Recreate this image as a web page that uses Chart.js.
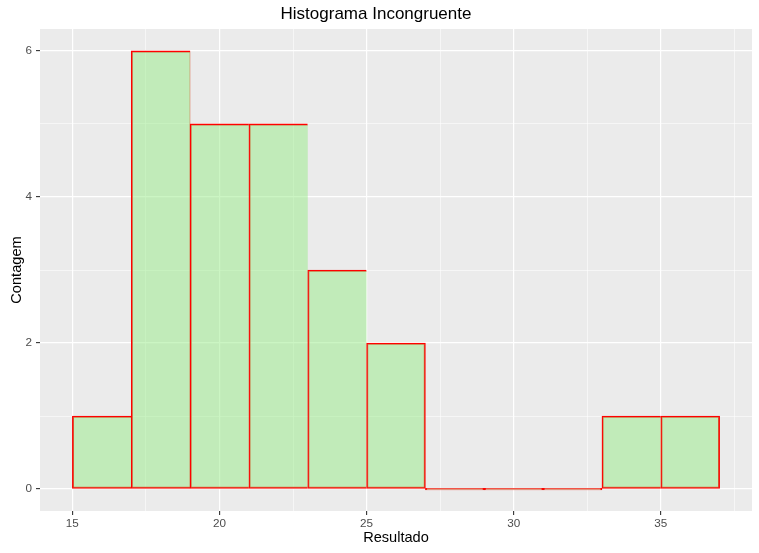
<!DOCTYPE html>
<html>
<head>
<meta charset="utf-8">
<title>Histograma Incongruente</title>
<script src="https://cdn.jsdelivr.net/npm/chart.js@4"></script>
<style>
  html, body { margin: 0; padding: 0; background: #ffffff; }
  #wrap { width: 759px; height: 553px; position: relative; }
</style>
</head>
<body>
<div id="wrap"><canvas id="histChart"></canvas></div>
<script>
// Histogram data (bin width 2, from 15 to 37)
const binCenters = [16, 18, 20, 22, 24, 26, 28, 30, 32, 34, 36];
const counts = [1, 6, 5, 5, 3, 2, 0, 0, 0, 1, 1];

// Axis ticks: majors get labels, minors only get a faint grid line
const xMajorTicks = [15, 20, 25, 30, 35];
const xMinorTicks = [17.5, 22.5, 27.5, 32.5, 37.5];
const yMajorTicks = [0, 2, 4, 6];
const yMinorTicks = [1, 3, 5];

const FONT = '"Liberation Sans", Arial, Helvetica, sans-serif';
const PANEL_BG = '#EBEBEB';

// Paint the grey ggplot panel behind grid and bars
const panelBackground = {
  id: 'panelBackground',
  beforeDraw(chart) {
    const { ctx, chartArea: a } = chart;
    ctx.save();
    ctx.fillStyle = PANEL_BG;
    ctx.fillRect(a.left, a.top, a.right - a.left, a.bottom - a.top);
    ctx.restore();
  },
};

function mergedTicks(major, minor) {
  return major.concat(minor).sort((a, b) => a - b).map((v) => ({ value: v }));
}

// Only draw a bar's right edge when there is no neighbour to draw it
function barBorder(ctx) {
  const i = ctx.dataIndex;
  const w = 1.3;
  const next = counts[i + 1];
  return {
    top: w,
    bottom: w,
    left: w,
    right: (i === counts.length - 1 || next === 0 || counts[i] === 0) ? w : 0,
  };
}

function axisOptions(major, minor, min, max, titleText, titlePadding) {
  return {
    type: 'linear',
    min,
    max,
    offset: false,
    afterBuildTicks: (scale) => { scale.ticks = mergedTicks(major, minor); },
    border: { display: false },
    grid: {
      offset: false,
      color: '#FFFFFF',
      lineWidth: (c) => (major.includes(c.tick.value) ? 1.2 : 0.55),
      tickLength: 4,
      tickWidth: 1.1,
      tickColor: (c) => (major.includes(c.tick.value) ? '#333333' : 'rgba(0,0,0,0)'),
    },
    ticks: {
      autoSkip: false,
      maxRotation: 0,
      padding: 2,
      color: '#4D4D4D',
      font: { family: FONT, size: 11.7 },
      callback: (v) => (major.includes(v) ? String(v) : ''),
    },
    title: {
      display: true,
      text: titleText,
      color: '#000000',
      font: { family: FONT, size: 14.6 },
      padding: titlePadding,
    },
  };
}

const xAxis = axisOptions(xMajorTicks, xMinorTicks, 13.9, 38.1, 'Resultado', { top: 0, bottom: 6 });
xAxis.afterFit = (scale) => { scale.height = 42; };

const yAxis = axisOptions(yMajorTicks, yMinorTicks, -0.3, 6.3, 'Contagem', { top: 8, bottom: 0 });
yAxis.afterFit = (scale) => { scale.width = 40; };
yAxis.ticks.padding = 4;

const ctx = document.getElementById('histChart').getContext('2d');
new Chart(ctx, {
  type: 'bar',
  data: {
    datasets: [{
      data: binCenters.map((x, i) => ({ x, y: counts[i] })),
      backgroundColor: 'rgba(151,235,135,0.5)',
      borderColor: '#FF0000',
      borderWidth: barBorder,
      borderSkipped: false,
      minBarLength: 1.7,
      barPercentage: 1.0,
      categoryPercentage: 1.0,
    }],
  },
  options: {
    responsive: true,
    maintainAspectRatio: false,
    animation: false,
    layout: { padding: { left: 0, right: 7, top: 0, bottom: 0 } },
    scales: { x: xAxis, y: yAxis },
    plugins: {
      legend: { display: false },
      tooltip: { enabled: false },
      title: {
        display: true,
        text: 'Histograma Incongruente',
        color: '#000000',
        font: { family: FONT, size: 17, weight: 'normal' },
        padding: { top: 3.8, bottom: 4.8 },
      },
    },
  },
  plugins: [panelBackground],
});
</script>
</body>
</html>
